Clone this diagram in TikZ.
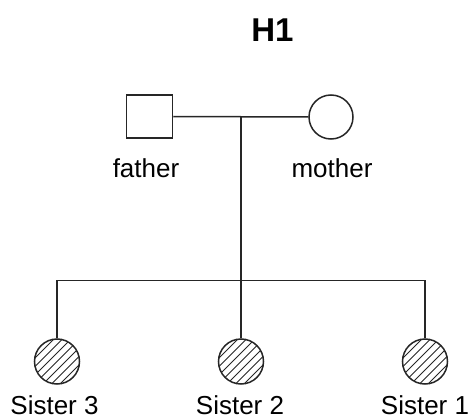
\documentclass[tikz,border=0pt]{standalone}
\usepackage{fontspec}
\setmainfont{Liberation Sans}
\begin{document}
\begin{tikzpicture}[x=1pt,y=-1pt,
  line width=1.5pt,
  person/.style={draw=black!85, line width=1.5pt, inner sep=0pt},
  male/.style={person, rectangle, minimum width=46pt, minimum height=43pt},
  female/.style={person, circle, minimum size=44pt},
  affected/.style={female, minimum size=45pt,
    path picture={
      \foreach \k in {-5,...,5}
        \draw[line width=1pt, black!85]
          ([shift={(\k*8.5pt,0)}]path picture bounding box.center)
          ++(-30pt,-30pt) -- ++(60pt,60pt);
    }},
  label/.style={inner sep=0pt, anchor=base, font=\fontsize{26}{28}\selectfont},
  link/.style={draw=black!85, line width=1.5pt}
]
\useasboundingbox (0,0) rectangle (469,420);

% title
\node[inner sep=0pt, anchor=base, font=\fontsize{33}{36}\selectfont\bfseries] (title) at (272.5,41.7) {H1};

% parents
\node[male]   (father) at (149.5,116.5) {};
\node[female] (mother) at (331,117) {};
\node[label]  (flab) at (146,177) {father};
\node[label]  (mlab) at (332,177) {mother};

% daughters
\node[affected] (sis3) at (57,361.5) {};
\node[affected] (sis2) at (241,361.5) {};
\node[affected] (sis1) at (425,361.5) {};
\node[label] (s3lab) at (54.5,414.5) {Sister 3};
\node[label] (s2lab) at (240,414.5) {Sister 2};
\node[label] (s1lab) at (425,414.5) {Sister 1};

% marriage and descent lines
\coordinate (mid) at (241,117);
\coordinate (sib) at (241,280.5);
\draw[link] (father.east) -- (mother.west);
\draw[link] (mid) -- (sib);
\draw[link] (sis3.north) -- (sis3.north |- sib) -- (sis1.north |- sib) -- (sis1.north);
\draw[link] (sis2.north |- sib) -- (sis2.north);
\end{tikzpicture}
\end{document}
